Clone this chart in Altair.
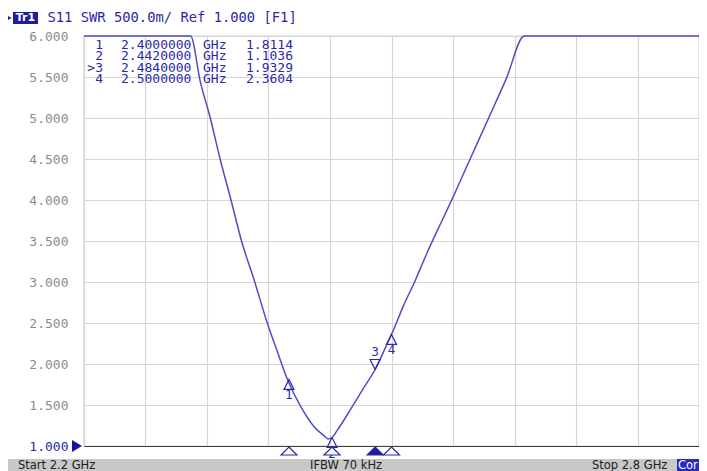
import altair as alt
import pandas as pd

# ---- trace data (frequency in GHz, SWR) ----
freq_ghz = [2.200, 2.304, 2.3135, 2.3232, 2.3328, 2.3434, 2.3537, 2.3666,
            2.3788, 2.3881, 2.3987, 2.4115, 2.4245, 2.4357, 2.4380, 2.4420, 2.4470,
            2.4598, 2.4727, 2.4840, 2.4952, 2.5016, 2.5113, 2.5225, 2.5338,
            2.5482, 2.5595, 2.5756, 2.5948, 2.6120, 2.6295,
            2.800]
swr = [6.0, 6.0, 5.44, 5.0, 4.5, 4.0, 3.5, 3.0,
       2.5, 2.17, 1.805, 1.48, 1.235, 1.11, 1.085, 1.1036, 1.19,
       1.44, 1.705, 1.933, 2.23, 2.405, 2.70, 3.0, 3.33,
       3.72, 4.02, 4.47, 5.0, 5.48, 6.0,
       6.0]

# ---- markers ----
marker_id = [1, 2, 3, 4]
marker_label = ["1", "2", ">3", "4"]
marker_freq = [2.400, 2.442, 2.484, 2.500]
marker_swr = [1.8114, 1.1036, 1.9329, 2.3604]
marker_freq_text = ["2.4000000", "2.4420000", "2.4840000", "2.5000000"]
marker_swr_text = ["1.8114", "1.1036", "1.9329", "2.3604"]
active_marker = 3

# ---- axes ----
x_grid = [2.20, 2.26, 2.32, 2.38, 2.44, 2.50, 2.56, 2.62, 2.68, 2.74, 2.80]
y_ticks = [1.0, 1.5, 2.0, 2.5, 3.0, 3.5, 4.0, 4.5, 5.0, 5.5, 6.0]

header_text = "S11 SWR 500.0m/ Ref 1.000 [F1]"
status_left = "Start 2.2 GHz"
status_mid = "IFBW 70 kHz"
status_right = "Stop 2.8 GHz"

W, H = 615, 410
BLUE = "#2a2aa8"
TRACE = "#4e4ec6"
GRID = "#d6d6d6"

trace_df = pd.DataFrame({"freq": freq_ghz, "swr": swr})
mk_df = pd.DataFrame({"id": marker_id, "freq": marker_freq, "swr": marker_swr})

xs = alt.Scale(domain=[2.2, 2.8], nice=False, zero=False)
ys = alt.Scale(domain=[1.0, 6.0], nice=False, zero=False)
X = alt.X("freq:Q", scale=xs)
Y = alt.Y("swr:Q", scale=ys)

trace = alt.Chart(trace_df).mark_line(color=TRACE, strokeWidth=1.5, interpolate="monotone").encode(
    x=alt.X("freq:Q", scale=xs, axis=alt.Axis(values=x_grid, labels=False, ticks=False, title=None,
                                              grid=True, gridColor=GRID, gridWidth=1.2,
                                              domainColor="#404040", domainWidth=1.2)),
    y=alt.Y("swr:Q", scale=ys, axis=alt.Axis(values=y_ticks, format=".3f", title=None, ticks=False,
                                             domain=False, labelPadding=16, grid=True,
                                             labelFont="DejaVu Sans Mono", labelFontSize=13,
                                             labelColor={"condition": {"test": "datum.value == 1", "value": BLUE},
                                                         "value": "#8c8c8c"},
                                             gridColor=GRID, gridWidth=1.2)),
)

UP = "M0,0L0.5,1L-0.5,1Z"
DOWN = "M0,0L0.5,-1L-0.5,-1Z"
base_mk = alt.Chart(mk_df)

mk_tri = base_mk.mark_point(filled=False, size=400, strokeWidth=1.2, color=BLUE, opacity=1).encode(
    x=X, y=Y,
    shape=alt.condition(f"datum.id == {active_marker}", alt.value(DOWN), alt.value(UP)),
)

mk_lab_below = base_mk.transform_filter(f"datum.id != {active_marker}").mark_text(
    font="DejaVu Sans", fontSize=12, color=BLUE, dy=16).encode(x=X, y=Y, text=alt.Text("id:N"))
mk_lab_above = base_mk.transform_filter(f"datum.id == {active_marker}").mark_text(
    font="DejaVu Sans", fontSize=12, color=BLUE, dy=-18).encode(x=X, y=Y, text=alt.Text("id:N"))

BOT = "M0,0.1L0.8,0.9L-0.8,0.9Z"
mk_bottom = base_mk.mark_point(filled=True, size=400, stroke=BLUE, strokeWidth=1.2, opacity=1).encode(
    x=X, y=alt.datum(1.0), shape=alt.value(BOT),
    fill=alt.condition(f"datum.id == {active_marker}", alt.value("#1a1a9a"), alt.value("#ffffff")),
)

ref_arrow = alt.Chart(pd.DataFrame({"a": [0]})).mark_point(filled=True, size=400, color="#1414a0", opacity=1).encode(
    x=alt.datum(2.2), y=alt.datum(1.0), shape=alt.value("M-1.2,-0.6L-0.2,0L-1.2,0.6Z"))

# marker table: one multi-line text per column
tbl_df = pd.DataFrame({
    "col": ["id", "f", "g", "v"],
    "t": ["\n".join(marker_label), "\n".join(marker_freq_text),
          "\n".join(["GHz"] * len(marker_id)), "\n".join(marker_swr_text)],
})
tfont = dict(font="DejaVu Sans Mono", fontSize=13, color=BLUE, baseline="top", lineHeight=11.4)


def col_text(name, xpix, align):
    return alt.Chart(tbl_df).transform_filter(f"datum.col == '{name}'").transform_calculate(
        lines="split(datum.t, '\\n')").mark_text(align=align, **tfont).encode(
        x=alt.value(xpix), y=alt.value(3), text="lines:N")


t_id = col_text("id", 19, "right")
t_f = col_text("f", 37, "left")
t_g = col_text("g", 119, "left")
t_v = col_text("v", 162, "left")

one = pd.DataFrame({"a": [0]})
hdr_box = alt.Chart(one).mark_rect(color="#1e1e9a").encode(
    x=alt.value(-71), x2=alt.value(-46), y=alt.value(-24), y2=alt.value(-12))
hdr_tr = alt.Chart(one).mark_text(font="DejaVu Sans", fontSize=11, fontWeight="bold", color="white",
                                  baseline="middle").encode(x=alt.value(-58.5), y=alt.value(-18), text=alt.value("Tr1"))
hdr_txt = alt.Chart(one).mark_text(font="DejaVu Sans Mono", fontSize=13.8, color=BLUE, align="left",
                                   baseline="middle").encode(x=alt.value(-36.5), y=alt.value(-18), text=alt.value(header_text))
hdr_arrow = alt.Chart(one).mark_point(filled=True, size=36, color="#1e1e9a", opacity=1).encode(
    x=alt.value(-75), y=alt.value(-18), shape=alt.value("triangle-right"))

bar = alt.Chart(one).mark_rect(color="#c8c8c8").encode(
    x=alt.value(-76), x2=alt.value(615), y=alt.value(423), y2=alt.value(436))
sfont = dict(font="DejaVu Sans", fontSize=11.5, color="#202020", align="left", baseline="middle")
s1 = alt.Chart(one).mark_text(**sfont).encode(x=alt.value(-66), y=alt.value(429.5), text=alt.value(status_left))
s2 = alt.Chart(one).mark_text(**sfont).encode(x=alt.value(226), y=alt.value(429.5), text=alt.value(status_mid))
s3 = alt.Chart(one).mark_text(**sfont).encode(x=alt.value(508), y=alt.value(429.5), text=alt.value(status_right))
cor_box = alt.Chart(one).mark_rect(color="#2828c8").encode(
    x=alt.value(593), x2=alt.value(615), y=alt.value(423), y2=alt.value(436))
cor_txt = alt.Chart(one).mark_text(font="DejaVu Sans", fontSize=11.5, color="white", align="left",
                                   baseline="middle").encode(x=alt.value(594), y=alt.value(429.5), text=alt.value("Cor"))

chart = alt.layer(
    trace, mk_tri, mk_lab_below, mk_lab_above, mk_bottom, ref_arrow,
    t_id, t_f, t_g, t_v, hdr_box, hdr_tr, hdr_txt, hdr_arrow,
    bar, s1, s2, s3, cor_box, cor_txt,
).properties(
    width=W, height=H,
    autosize=alt.AutoSizeParams(type="none"),
    padding={"left": 76, "top": 28, "right": 0, "bottom": 25},
    background="white",
).configure_view(stroke="#a8a8a8", strokeWidth=1.2)

chart.save("out.html", embed_options={"renderer": "svg", "actions": False})
